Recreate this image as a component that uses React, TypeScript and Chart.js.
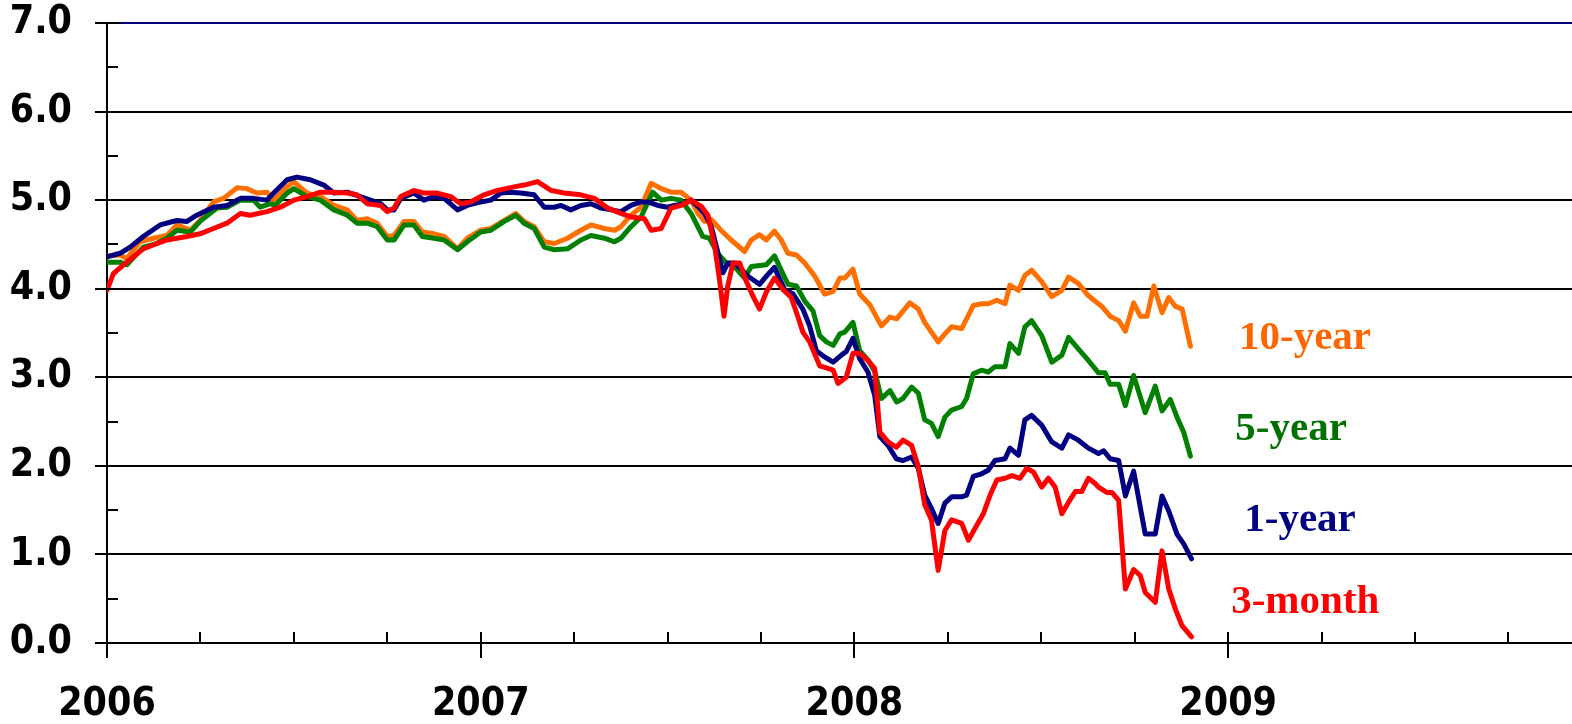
import React, { useEffect, useRef } from "react";
import { Chart, registerables } from "chart.js";

Chart.register(...registerables);

// ---- Data (decimal year, percent) ----
const d3m = [2006.000,2006.017,2006.044,2006.071,2006.097,2006.133,2006.160,2006.187,2006.214,2006.249,2006.285,2006.321,2006.357,2006.383,2006.428,2006.464,2006.500,2006.535,2006.571,2006.607,2006.643,2006.669,2006.696,2006.732,2006.750,2006.768,2006.786,2006.821,2006.848,2006.884,2006.920,2006.946,2006.973,2007.009,2007.045,2007.089,2007.116,2007.152,2007.188,2007.223,2007.268,2007.304,2007.340,2007.375,2007.402,2007.438,2007.456,2007.483,2007.509,2007.536,2007.563,2007.590,2007.608,2007.626,2007.639,2007.651,2007.661,2007.675,2007.693,2007.710,2007.728,2007.746,2007.764,2007.786,2007.809,2007.831,2007.849,2007.862,2007.880,2007.907,2007.929,2007.943,2007.956,2007.978,2007.996,2008.014,2008.036,2008.054,2008.068,2008.090,2008.112,2008.130,2008.153,2008.171,2008.188,2008.206,2008.224,2008.242,2008.260,2008.287,2008.305,2008.322,2008.345,2008.363,2008.381,2008.403,2008.421,2008.443,2008.461,2008.479,2008.501,2008.519,2008.537,2008.555,2008.573,2008.591,2008.608,2008.626,2008.644,2008.653,2008.675,2008.689,2008.707,2008.725,2008.747,2008.765,2008.778,2008.805,2008.823,2008.841,2008.859,2008.876,2008.902];
const v3m = [3.98,4.17,4.27,4.36,4.45,4.51,4.55,4.57,4.59,4.62,4.68,4.74,4.85,4.83,4.87,4.92,5.00,5.04,5.09,5.09,5.08,5.06,4.96,4.94,4.87,4.91,5.04,5.11,5.08,5.08,5.04,4.96,4.98,5.06,5.11,5.15,5.17,5.21,5.11,5.08,5.06,5.02,4.91,4.85,4.81,4.79,4.66,4.68,4.91,4.94,5.00,4.93,4.83,4.48,4.10,3.69,4.03,4.29,4.29,4.09,3.92,3.77,3.96,4.12,3.99,3.90,3.68,3.51,3.40,3.13,3.10,3.08,2.93,3.00,3.27,3.27,3.19,3.10,2.38,2.27,2.21,2.29,2.23,1.99,1.56,1.39,0.82,1.27,1.39,1.35,1.16,1.29,1.46,1.67,1.84,1.86,1.89,1.86,1.97,1.93,1.76,1.86,1.76,1.46,1.59,1.71,1.71,1.86,1.80,1.76,1.70,1.70,1.61,0.61,0.83,0.76,0.57,0.46,1.04,0.61,0.38,0.20,0.07];

const d1y = [2006.000,2006.035,2006.062,2006.097,2006.142,2006.187,2006.214,2006.240,2006.285,2006.321,2006.357,2006.392,2006.428,2006.446,2006.482,2006.508,2006.544,2006.580,2006.607,2006.643,2006.678,2006.705,2006.732,2006.750,2006.768,2006.786,2006.821,2006.848,2006.875,2006.902,2006.938,2006.964,2007.000,2007.027,2007.054,2007.080,2007.107,2007.143,2007.170,2007.197,2007.215,2007.241,2007.268,2007.295,2007.322,2007.349,2007.375,2007.402,2007.429,2007.447,2007.474,2007.500,2007.518,2007.545,2007.563,2007.581,2007.599,2007.617,2007.634,2007.648,2007.661,2007.679,2007.697,2007.715,2007.746,2007.764,2007.786,2007.813,2007.836,2007.862,2007.880,2007.898,2007.920,2007.943,2007.965,2007.978,2007.996,2008.014,2008.036,2008.054,2008.068,2008.090,2008.112,2008.130,2008.153,2008.171,2008.188,2008.206,2008.224,2008.242,2008.260,2008.287,2008.300,2008.318,2008.340,2008.358,2008.376,2008.403,2008.416,2008.439,2008.456,2008.474,2008.501,2008.528,2008.555,2008.573,2008.599,2008.626,2008.653,2008.667,2008.684,2008.707,2008.725,2008.747,2008.778,2008.805,2008.823,2008.841,2008.863,2008.881,2008.902];
const v1y = [4.36,4.40,4.47,4.59,4.72,4.77,4.76,4.83,4.92,4.94,5.02,5.02,5.00,5.08,5.23,5.26,5.23,5.17,5.08,5.09,5.04,5.00,4.96,4.89,4.89,5.02,5.08,5.00,5.04,5.02,4.89,4.94,4.98,5.00,5.08,5.09,5.08,5.06,4.92,4.92,4.94,4.89,4.94,4.96,4.91,4.89,4.87,4.94,4.98,4.98,4.94,4.92,4.94,4.96,5.00,4.93,4.85,4.70,4.42,4.18,4.29,4.29,4.22,4.14,4.05,4.14,4.24,3.99,3.94,3.77,3.58,3.30,3.23,3.17,3.25,3.29,3.44,3.21,3.06,2.80,2.33,2.23,2.08,2.06,2.10,1.97,1.67,1.52,1.35,1.58,1.65,1.65,1.67,1.88,1.91,1.95,2.06,2.08,2.20,2.12,2.52,2.57,2.46,2.27,2.20,2.35,2.29,2.20,2.14,2.17,2.08,2.06,1.66,1.94,1.23,1.23,1.66,1.49,1.23,1.12,0.95];

const d5y = [2006.000,2006.035,2006.053,2006.097,2006.133,2006.160,2006.187,2006.223,2006.249,2006.294,2006.321,2006.357,2006.392,2006.410,2006.437,2006.450,2006.482,2006.500,2006.535,2006.571,2006.607,2006.643,2006.669,2006.696,2006.723,2006.750,2006.768,2006.795,2006.821,2006.844,2006.875,2006.902,2006.938,2006.964,2007.000,2007.027,2007.063,2007.094,2007.116,2007.143,2007.170,2007.197,2007.232,2007.268,2007.295,2007.331,2007.358,2007.375,2007.402,2007.429,2007.460,2007.483,2007.509,2007.536,2007.563,2007.594,2007.612,2007.634,2007.657,2007.679,2007.706,2007.724,2007.764,2007.786,2007.822,2007.845,2007.867,2007.889,2007.907,2007.925,2007.943,2007.961,2007.974,2007.996,2008.014,2008.037,2008.055,2008.072,2008.095,2008.113,2008.130,2008.153,2008.171,2008.188,2008.206,2008.224,2008.242,2008.260,2008.287,2008.300,2008.318,2008.340,2008.358,2008.376,2008.403,2008.416,2008.439,2008.456,2008.474,2008.501,2008.528,2008.555,2008.573,2008.599,2008.626,2008.653,2008.671,2008.684,2008.707,2008.725,2008.747,2008.778,2008.805,2008.823,2008.845,2008.863,2008.881,2008.899];
const v5y = [4.30,4.30,4.27,4.47,4.51,4.57,4.66,4.64,4.76,4.91,4.92,5.00,5.00,4.92,4.96,4.94,5.08,5.13,5.04,5.00,4.89,4.83,4.74,4.74,4.70,4.55,4.55,4.72,4.72,4.59,4.57,4.55,4.44,4.53,4.64,4.66,4.76,4.83,4.74,4.68,4.47,4.44,4.45,4.55,4.60,4.57,4.53,4.57,4.70,4.81,5.09,5.00,5.02,5.00,4.85,4.59,4.57,4.40,4.29,4.25,4.12,4.25,4.27,4.37,4.05,4.03,3.86,3.75,3.47,3.40,3.36,3.49,3.51,3.62,3.30,3.19,3.06,2.76,2.85,2.72,2.76,2.89,2.82,2.52,2.48,2.33,2.55,2.63,2.67,2.76,3.04,3.08,3.06,3.12,3.12,3.38,3.27,3.57,3.64,3.47,3.17,3.25,3.45,3.32,3.19,3.05,3.05,2.92,2.92,2.68,3.02,2.60,2.90,2.62,2.75,2.55,2.38,2.11];

const d10y = [2006.000,2006.035,2006.053,2006.088,2006.124,2006.160,2006.187,2006.223,2006.249,2006.285,2006.312,2006.348,2006.374,2006.401,2006.428,2006.446,2006.482,2006.500,2006.535,2006.571,2006.607,2006.643,2006.669,2006.696,2006.723,2006.750,2006.768,2006.795,2006.821,2006.844,2006.875,2006.902,2006.938,2006.964,2007.000,2007.027,2007.063,2007.094,2007.116,2007.143,2007.170,2007.197,2007.232,2007.268,2007.295,2007.331,2007.358,2007.375,2007.402,2007.429,2007.456,2007.483,2007.509,2007.536,2007.563,2007.581,2007.599,2007.617,2007.643,2007.670,2007.706,2007.724,2007.746,2007.764,2007.786,2007.804,2007.822,2007.845,2007.867,2007.894,2007.920,2007.943,2007.961,2007.974,2007.996,2008.014,2008.041,2008.072,2008.095,2008.113,2008.148,2008.171,2008.188,2008.206,2008.224,2008.242,2008.260,2008.287,2008.300,2008.318,2008.340,2008.358,2008.381,2008.403,2008.416,2008.439,2008.456,2008.474,2008.501,2008.528,2008.555,2008.573,2008.599,2008.626,2008.662,2008.684,2008.707,2008.725,2008.747,2008.765,2008.783,2008.801,2008.823,2008.841,2008.859,2008.877,2008.899];
const v10y = [4.37,4.38,4.34,4.53,4.57,4.60,4.72,4.66,4.77,4.98,5.02,5.14,5.13,5.08,5.09,5.00,5.15,5.21,5.08,5.04,4.94,4.89,4.77,4.79,4.74,4.59,4.60,4.76,4.76,4.64,4.62,4.59,4.45,4.57,4.66,4.68,4.77,4.85,4.76,4.70,4.53,4.51,4.57,4.66,4.72,4.68,4.66,4.70,4.83,4.92,5.19,5.13,5.09,5.09,5.00,4.85,4.76,4.78,4.66,4.55,4.42,4.55,4.61,4.55,4.65,4.55,4.40,4.38,4.29,4.14,3.94,3.97,4.12,4.12,4.22,3.94,3.82,3.58,3.68,3.66,3.84,3.77,3.62,3.51,3.40,3.49,3.57,3.55,3.66,3.81,3.83,3.83,3.87,3.83,4.04,3.98,4.15,4.21,4.08,3.91,3.98,4.13,4.06,3.92,3.80,3.69,3.64,3.52,3.84,3.69,3.69,4.03,3.73,3.90,3.80,3.77,3.35];

const seriesNames = ["3-month", "1-year", "5-year", "10-year"];
const seriesColors = ["#FF0000", "#000080", "#008000", "#FF7000"];
const labelColors = ["#FF0000", "#000080", "#007000", "#FF6600"];
const labelX = [2009.008, 2009.043, 2009.019, 2009.029];
const labelY = [0.34, 1.26, 2.29, 3.32];

const yMajorTicks = [0, 1, 2, 3, 4, 5, 6, 7];
const yMinorTicks = [0.5, 1.5, 2.5, 3.5, 4.5, 5.5, 6.5];
const xQuarterTicks = [2006.25, 2006.5, 2006.75, 2007.25, 2007.5, 2007.75, 2008.25, 2008.5, 2008.75, 2009.25, 2009.5, 2009.75];
const xYearTicks = [2006, 2007, 2008, 2009];

const tickFont = "'DejaVu Sans Condensed', 'DejaVu Sans', sans-serif";

const toPoints = (d: number[], v: number[]) => d.map((x, i) => ({ x, y: v[i] }));

const zeroPad = (s: any) => {
  s.paddingLeft = 0;
  s.paddingRight = 0;
  s.paddingTop = 0;
  s.paddingBottom = 0;
};

const decor = {
  id: "decor",
  afterDatasetsDraw(chart: any) {
    const { ctx, chartArea: a } = chart;
    const x = chart.scales.x;
    const y = chart.scales.y;
    ctx.save();
    ctx.strokeStyle = "#000";
    ctx.lineWidth = 2;
    ctx.beginPath();
    for (const v of yMinorTicks) {
      const py = Math.round(y.getPixelForValue(v));
      ctx.moveTo(a.left, py);
      ctx.lineTo(a.left + 11, py);
    }
    for (const v of yMajorTicks) {
      const py = Math.round(y.getPixelForValue(v));
      ctx.moveTo(a.left, py);
      ctx.lineTo(a.left + 14, py);
    }
    for (const v of xQuarterTicks) {
      const px = Math.round(x.getPixelForValue(v));
      ctx.moveTo(px, a.bottom);
      ctx.lineTo(px, a.bottom - 11);
    }
    for (const v of xYearTicks) {
      const px = Math.round(x.getPixelForValue(v));
      ctx.moveTo(px, v === 2006 ? a.bottom : a.bottom - 11);
      ctx.lineTo(px, a.bottom + 15);
    }
    ctx.stroke();

    ctx.font = "bold 41px 'Liberation Serif', serif";
    ctx.textAlign = "left";
    ctx.textBaseline = "alphabetic";
    seriesNames.forEach((n, i) => {
      ctx.fillStyle = labelColors[i];
      ctx.fillText(n, x.getPixelForValue(labelX[i]), y.getPixelForValue(labelY[i]));
    });
    ctx.restore();
  },
};

export default function App() {
  const ref = useRef<HTMLCanvasElement | null>(null);
  useEffect(() => {
    if (!ref.current) return;
    const datasets = [
      toPoints(d3m, v3m),
      toPoints(d1y, v1y),
      toPoints(d5y, v5y),
      toPoints(d10y, v10y),
    ].map((data, i) => ({
      label: seriesNames[i],
      data,
      borderColor: seriesColors[i],
      backgroundColor: seriesColors[i],
      borderWidth: 5,
      pointRadius: 0,
      tension: 0,
      borderJoinStyle: "round" as const,
      borderCapStyle: "round" as const,
      fill: false,
    }));
    const chart = new Chart(ref.current, {
      type: "line",
      data: { datasets },
      options: {
        animation: false,
        responsive: false,
        devicePixelRatio: 1,
        layout: { padding: { top: 23, left: 0, right: 0, bottom: 0 } },
        plugins: { legend: { display: false }, tooltip: { enabled: false } },
        scales: {
          x: {
            type: "linear",
            min: 2006,
            max: 2009.92,
            afterFit: (s: any) => { s.height = 81; zeroPad(s); },
            ticks: {
              stepSize: 0.25,
              autoSkip: false,
              maxRotation: 0,
              padding: 30,
              color: "#000",
              font: { family: tickFont, weight: "bold", size: 39 },
              callback: (v: any) => (Number.isInteger(Number(v)) && Number(v) <= 2009 ? String(v) : ""),
            },
            grid: { display: false },
            border: { display: true, color: "#000", width: 2 },
          },
          y: {
            min: 0,
            max: 7,
            afterFit: (s: any) => { s.width = 107; zeroPad(s); },
            ticks: {
              stepSize: 0.5,
              autoSkip: false,
              padding: 23,
              color: "#000",
              font: { family: tickFont, weight: "bold", size: 39 },
              callback: (v: any) => (Number.isInteger(Number(v)) ? Number(v).toFixed(1) : ""),
            },
            grid: {
              drawOnChartArea: true,
              drawTicks: true,
              tickLength: 12,
              lineWidth: 2,
              tickColor: (c: any) => {
                const v = c.tick ? c.tick.value : 0;
                return Number.isInteger(v) ? "#000" : "rgba(0,0,0,0)";
              },
              color: (c: any) => {
                const v = c.tick ? c.tick.value : 0;
                if (!Number.isInteger(v)) return "rgba(0,0,0,0)";
                return v === 7 ? "#000080" : "#000";
              },
            },
            border: { display: true, color: "#000", width: 2 },
          },
        },
      },
      plugins: [decor],
    });
    return () => chart.destroy();
  }, []);
  return (
    <div style={{ position: "absolute", left: 0, top: 0, width: 1572, height: 724, background: "#fff" }}>
      <canvas ref={ref} width={1572} height={724} style={{ display: "block" }} />
    </div>
  );
}
